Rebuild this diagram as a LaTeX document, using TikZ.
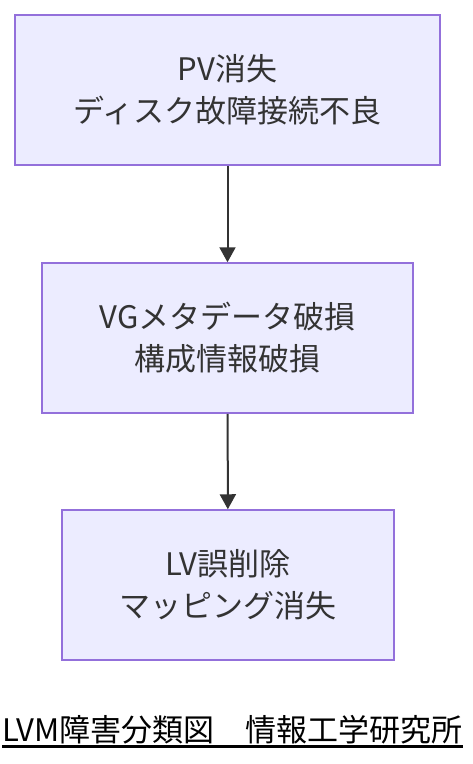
\documentclass[tikz,border=0pt]{standalone}
\usepackage{fontspec}
\usetikzlibrary{arrows.meta}
\newfontfamily\jp{Noto Sans CJK JP}
\definecolor{mmfill}{HTML}{ECECFF}
\definecolor{mmstroke}{HTML}{9370DB}
\definecolor{mmtext}{HTML}{333333}
\tikzset{
  faultbox/.style={rectangle, draw=mmstroke, fill=mmfill, line width=1.5pt,
    minimum height=150pt, inner sep=0pt, align=center, text=mmtext,
    font=\jp\fontsize{31}{42}\selectfont},
  flow/.style={draw=mmtext, line width=2pt, -{Triangle[length=15pt, width=16pt]}}
}
\begin{document}
\begin{tikzpicture}[x=1pt, y=-1pt]
        \useasboundingbox (0,0) rectangle (472,764);
        
        % Layers of failure
        \node[faultbox, minimum width=425pt] (pv) at (227.5,90) {PV消失\\ディスク故障接続不良};
        \node[faultbox, minimum width=371pt] (vg) at (227.5,338) {VGメタデータ破損\\構成情報破損};
        \node[faultbox, minimum width=332pt] (lv) at (228,585) {LV誤削除\\マッピング消失};
        
        % Connect layers
        \draw[flow] (pv) -- (vg);
        \draw[flow] (vg) -- (lv);
        
        % Caption
        \node[inner sep=0pt, font=\jp\fontsize{31}{36}\selectfont] (caption) at (232.5,730) {LVM障害分類図\quad 情報工学研究所};
        \draw[line width=3pt] ([yshift=-5pt]caption.base west) -- ([yshift=-5pt]caption.base east);
    \end{tikzpicture}
\end{document}
